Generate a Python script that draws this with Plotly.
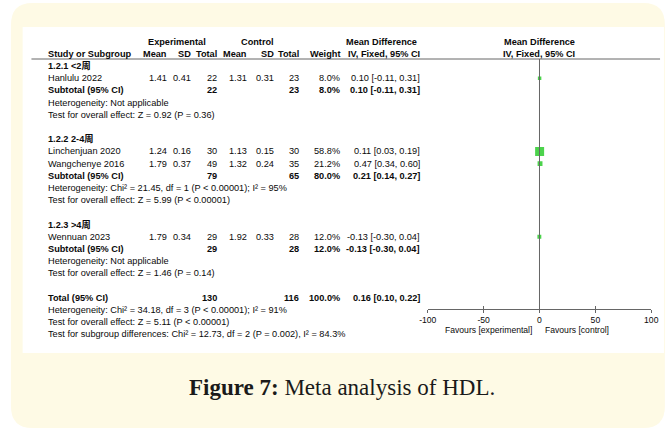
import plotly.graph_objects as go

# ---------------- data ----------------
studies = ["Hanlulu 2022", "Linchenjuan 2020", "Wangchenye 2016", "Wennuan 2023"]
study_group = [0, 1, 1, 2]
exp_mean = [1.41, 1.24, 1.79, 1.79]
exp_sd = [0.41, 0.16, 0.37, 0.34]
exp_n = [22, 30, 49, 29]
ctl_mean = [1.31, 1.13, 1.32, 1.92]
ctl_sd = [0.31, 0.15, 0.24, 0.33]
ctl_n = [23, 30, 35, 28]
weight = [8.0, 58.8, 21.2, 12.0]
md = [0.10, 0.11, 0.47, -0.13]
md_lo = [-0.11, 0.03, 0.34, -0.30]
md_hi = [0.31, 0.19, 0.60, 0.04]

group_titles = ["1.2.1 &lt;2周", "1.2.2 2-4周", "1.2.3 &gt;4周"]
group_exp_n = [22, 79, 29]
group_ctl_n = [23, 65, 28]
group_weight = [8.0, 80.0, 12.0]
group_md = [0.10, 0.21, -0.13]
group_lo = [-0.11, 0.14, -0.30]
group_hi = [0.31, 0.27, 0.04]
group_het = [
    "Heterogeneity: Not applicable",
    "Heterogeneity: Chi² = 21.45, df = 1 (P &lt; 0.00001); I² = 95%",
    "Heterogeneity: Not applicable",
]
group_test = [
    "Test for overall effect: Z = 0.92 (P = 0.36)",
    "Test for overall effect: Z = 5.99 (P &lt; 0.00001)",
    "Test for overall effect: Z = 1.46 (P = 0.14)",
]

total_exp_n = 130
total_ctl_n = 116
total_weight = 100.0
total_md = 0.16
total_lo = 0.10
total_hi = 0.22
total_notes = [
    "Heterogeneity: Chi² = 34.18, df = 3 (P &lt; 0.00001); I² = 91%",
    "Test for overall effect: Z = 5.11 (P &lt; 0.00001)",
    "Test for subgroup differences: Chi² = 12.73, df = 2 (P = 0.002), I² = 84.3%",
]

tick_vals = [-100, -50, 0, 50, 100]
tick_text = ["-100", "-50", "0", "50", "100"]
caption = "<b>Figure 7:</b> Meta analysis of HDL."

# ---------------- layout constants ----------------
W, H = 669, 431
ROW0_PX, ROW_STEP = 41.6, 12.2
FONT = "Liberation Sans, Arial, Noto Sans CJK SC, sans-serif"
FS = 9.2
AX_FS = 8.6
INK = "#0a0a0a"
GREEN = "#00c000"
GRAY = "#666666"
CREAM = "#fefae5"


def px_row(p):
    return (p - ROW0_PX) / ROW_STEP


def fx(p):
    return p / W


def fy(p):
    return 1 - p / H


annotations = []


def txt(xpx, row, s, anchor="left", bold=False, size=FS):
    annotations.append(dict(
        x=fx(xpx), xref="paper", y=row, yref="y",
        text=f"<b>{s}</b>" if bold else s,
        xanchor=anchor, yanchor="middle", showarrow=False,
        font=dict(family=FONT, size=size, color=INK),
    ))


def ci(m, lo, hi):
    return f"{m:.2f} [{lo:.2f}, {hi:.2f}]"


# column positions (px); numeric columns are right-aligned
X_NAME = 38
X_EM, X_ESD, X_EN = 164, 189, 215
X_CM, X_CSD, X_CN = 246, 274, 299
X_W, X_CI = 341, 423
X_FOREST = 543

# header rows
txt(172, 0, "Experimental", "center", True)
txt(255, 0, "Control", "center", True)
txt(382, 0, "Mean Difference", "center", True)
txt(X_FOREST, 0, "Mean Difference", "center", True)
txt(X_NAME, 1, "Study or Subgroup", "left", True)
for xp, s in [(X_EM, "Mean"), (X_ESD, "SD"), (X_EN, "Total"), (X_CM, "Mean"),
              (X_CSD, "SD"), (X_CN, "Total"), (X_W, "Weight"), (X_CI, "IV, Fixed, 95% CI")]:
    txt(xp, 1, s, "right", True)
txt(X_FOREST, 1, "IV, Fixed, 95% CI", "center", True)

# body rows
study_rows = []
row = 2
for g in range(len(group_titles)):
    txt(X_NAME, row, group_titles[g], "left", True)
    row += 1
    for i in range(len(studies)):
        if study_group[i] != g:
            continue
        study_rows.append(row)
        txt(X_NAME, row, studies[i])
        txt(X_EM, row, f"{exp_mean[i]:.2f}", "right")
        txt(X_ESD, row, f"{exp_sd[i]:.2f}", "right")
        txt(X_EN, row, f"{exp_n[i]}", "right")
        txt(X_CM, row, f"{ctl_mean[i]:.2f}", "right")
        txt(X_CSD, row, f"{ctl_sd[i]:.2f}", "right")
        txt(X_CN, row, f"{ctl_n[i]}", "right")
        txt(X_W, row, f"{weight[i]:.1f}%", "right")
        txt(X_CI, row, ci(md[i], md_lo[i], md_hi[i]), "right")
        row += 1
    txt(X_NAME, row, "Subtotal (95% CI)", "left", True)
    txt(X_EN, row, f"{group_exp_n[g]}", "right", True)
    txt(X_CN, row, f"{group_ctl_n[g]}", "right", True)
    txt(X_W, row, f"{group_weight[g]:.1f}%", "right", True)
    txt(X_CI, row, ci(group_md[g], group_lo[g], group_hi[g]), "right", True)
    row += 1
    txt(X_NAME, row, group_het[g])
    row += 1
    txt(X_NAME, row, group_test[g])
    row += 2

txt(X_NAME, row, "Total (95% CI)", "left", True)
txt(X_EN, row, f"{total_exp_n}", "right", True)
txt(X_CN, row, f"{total_ctl_n}", "right", True)
txt(X_W, row, f"{total_weight:.1f}%", "right", True)
txt(X_CI, row, ci(total_md, total_lo, total_hi), "right", True)
row += 1
for note in total_notes:
    txt(X_NAME, row, note)
    row += 1

# axis captions under the forest axis
annotations.append(dict(x=fx(538), xref="paper", y=px_row(330), yref="y",
                        text="Favours [experimental]", xanchor="right", yanchor="middle",
                        showarrow=False, font=dict(family=FONT, size=AX_FS, color=INK)))
annotations.append(dict(x=fx(547), xref="paper", y=px_row(330), yref="y",
                        text="Favours [control]", xanchor="left", yanchor="middle",
                        showarrow=False, font=dict(family=FONT, size=AX_FS, color=INK)))

# figure caption
annotations.append(dict(x=fx(W / 2 + 7), xref="paper", y=px_row(387), yref="y",
                        text=caption, xanchor="center", yanchor="middle", showarrow=False,
                        font=dict(family="Liberation Serif, DejaVu Serif, serif", size=23,
                                  color="#1a1a1a")))

# ---------------- shapes ----------------
def rounded_path(x0, y0, x1, y1, r):
    pts = [
        f"M {fx(x0 + r)},{fy(y0)}",
        f"L {fx(x1 - r)},{fy(y0)}",
        f"Q {fx(x1)},{fy(y0)} {fx(x1)},{fy(y0 + r)}",
        f"L {fx(x1)},{fy(y1 - r)}",
        f"Q {fx(x1)},{fy(y1)} {fx(x1 - r)},{fy(y1)}",
        f"L {fx(x0 + r)},{fy(y1)}",
        f"Q {fx(x0)},{fy(y1)} {fx(x0)},{fy(y1 - r)}",
        f"L {fx(x0)},{fy(y0 + r)}",
        f"Q {fx(x0)},{fy(y0)} {fx(x0 + r)},{fy(y0)}",
        "Z",
    ]
    return " ".join(pts)


AXIS_PX = 309
HEADER_LINE_PX = 59

shapes = [
    dict(type="path", xref="paper", yref="paper", path=rounded_path(2, 3, 672, 428, 22),
         fillcolor=CREAM, line=dict(width=0), layer="below"),
    dict(type="rect", xref="paper", yref="paper", x0=fx(14), x1=fx(W + 2), y0=fy(353), y1=fy(27),
         fillcolor="white", line=dict(width=0), layer="below"),
    # header rule
    dict(type="line", xref="paper", yref="y", x0=fx(23), x1=fx(667),
         y0=px_row(HEADER_LINE_PX), y1=px_row(HEADER_LINE_PX),
         line=dict(color=GRAY, width=1)),
    # line of no effect
    dict(type="line", xref="x", yref="y", x0=0, x1=0,
         y0=px_row(HEADER_LINE_PX), y1=px_row(AXIS_PX),
         line=dict(color=GRAY, width=1)),
]

# ---------------- traces ----------------
marker_sizes = [2.6 + 6.4 * w / max(weight) for w in weight]

fig = go.Figure()
fig.add_trace(go.Scatter(
    x=md, y=study_rows, mode="markers",
    marker=dict(symbol="square", size=marker_sizes, color=GREEN, line=dict(width=0)),
    hoverinfo="skip", showlegend=False,
))
# helper trace so the overlaid tick axis is drawn
fig.add_trace(go.Scatter(x=[0], y=[0], xaxis="x2", mode="markers",
                         marker=dict(opacity=0), hoverinfo="skip", showlegend=False))

x_domain = [fx(429), fx(658)]
fig.update_layout(
    width=W, height=H, autosize=False,
    margin=dict(l=0, r=0, t=0, b=0),
    paper_bgcolor="white", plot_bgcolor="rgba(0,0,0,0)",
    showlegend=False,
    xaxis=dict(domain=x_domain, range=[-100, 100], anchor="free", position=fy(AXIS_PX),
               showline=True, linecolor=GRAY, linewidth=1,
               ticks="outside", ticklen=3, tickcolor=GRAY, tickwidth=1,
               tickvals=tick_vals, ticktext=tick_text,
               tickfont=dict(family=FONT, size=AX_FS, color=INK),
               showgrid=False, zeroline=False, fixedrange=True),
    xaxis2=dict(domain=x_domain, range=[-100, 100], anchor="free", position=fy(AXIS_PX),
                overlaying="x", side="bottom", showline=False,
                ticks="inside", ticklen=3, tickcolor=GRAY, tickwidth=1,
                tickvals=tick_vals, showticklabels=False,
                showgrid=False, zeroline=False, fixedrange=True),
    yaxis=dict(domain=[0, 1], range=[px_row(H), px_row(0)], visible=False,
               showgrid=False, zeroline=False, fixedrange=True),
    shapes=shapes,
    annotations=annotations,
)

fig.write_html("out.html", config=dict(displayModeBar=False))
